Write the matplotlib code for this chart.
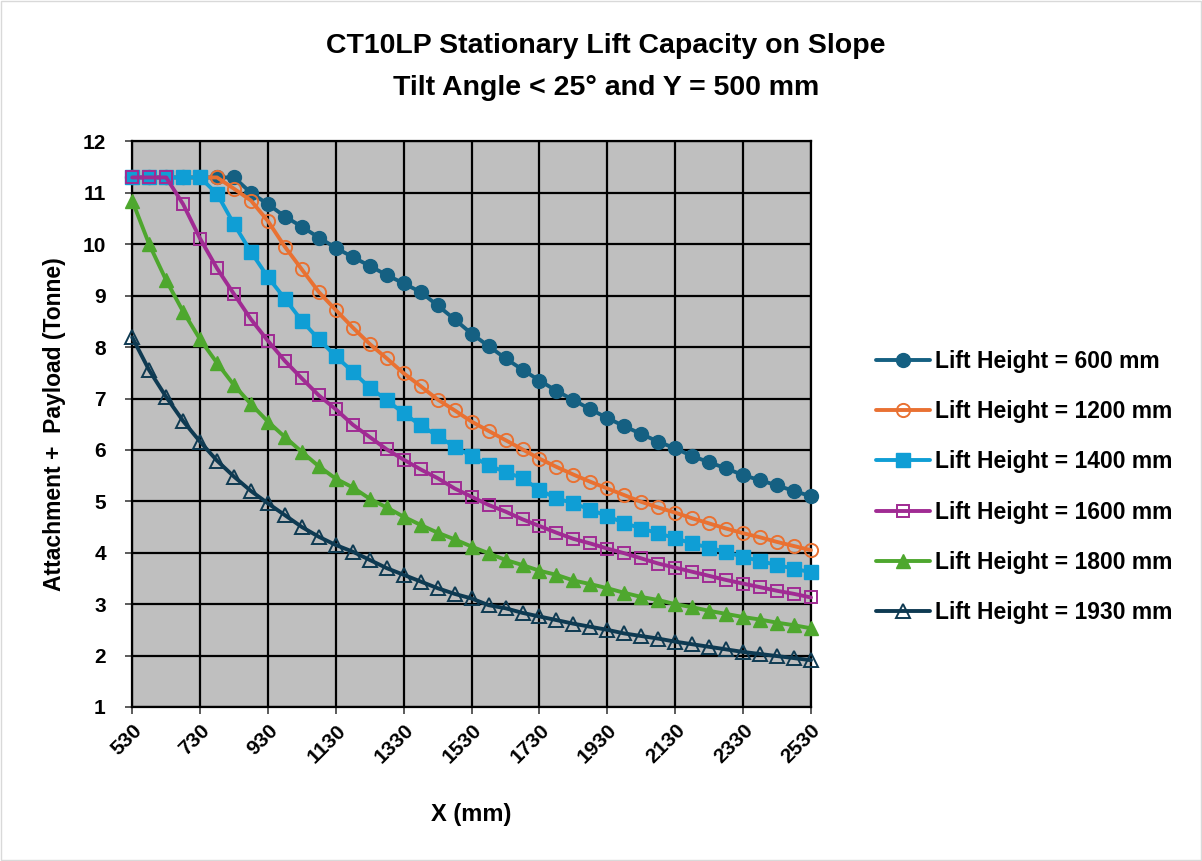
import matplotlib
matplotlib.use("Agg")
import matplotlib.pyplot as plt
from matplotlib.patches import Rectangle

plt.rcParams['font.family'] = ['Liberation Sans', 'DejaVu Sans']

x_mm = list(range(530, 2531, 50))

lift_600 = [11.3, 11.3, 11.3, 11.3, 11.3, 11.3, 11.3,
            11.0, 10.78, 10.54, 10.34, 10.13, 9.93, 9.75, 9.58, 9.40, 9.24, 9.07,
            8.81, 8.54, 8.26, 8.02, 7.78, 7.56, 7.35, 7.15, 6.97, 6.79, 6.62, 6.46,
            6.31, 6.16, 6.03, 5.88, 5.76, 5.64, 5.51, 5.41, 5.31, 5.20, 5.10]
lift_1200 = [11.3, 11.3, 11.3, 11.3, 11.3, 11.3,
             11.08, 10.85, 10.45, 9.95, 9.51, 9.07, 8.72, 8.38, 8.06, 7.78, 7.49, 7.24,
             6.98, 6.77, 6.55, 6.37, 6.19, 6.01, 5.83, 5.67, 5.52, 5.38, 5.25, 5.12,
             4.99, 4.88, 4.78, 4.67, 4.57, 4.47, 4.38, 4.30, 4.21, 4.13, 4.05]
lift_1400 = [11.3, 11.3, 11.3, 11.3, 11.3,
             10.98, 10.39, 9.85, 9.36, 8.94, 8.51, 8.15, 7.82, 7.52, 7.21, 6.97, 6.71,
             6.48, 6.27, 6.06, 5.88, 5.70, 5.57, 5.45, 5.22, 5.06, 4.96, 4.84, 4.71,
             4.58, 4.47, 4.38, 4.28, 4.18, 4.10, 4.01, 3.92, 3.84, 3.76, 3.69, 3.62]
lift_1600 = [11.3, 11.3, 11.3,
             10.78, 10.11, 9.53, 9.03, 8.54, 8.12, 7.73, 7.39, 7.06, 6.79, 6.49, 6.25,
             6.01, 5.81, 5.62, 5.45, 5.25, 5.09, 4.93, 4.80, 4.65, 4.52, 4.39, 4.27,
             4.18, 4.08, 3.99, 3.89, 3.79, 3.71, 3.63, 3.55, 3.47, 3.40, 3.33, 3.26,
             3.20, 3.13]
lift_1800 = [10.85, 10.0, 9.30, 8.69, 8.15, 7.69, 7.26, 6.89, 6.55, 6.25, 5.96, 5.68,
             5.44, 5.27, 5.05, 4.88, 4.70, 4.54, 4.39, 4.26, 4.12, 3.99, 3.86, 3.76,
             3.65, 3.57, 3.46, 3.39, 3.31, 3.22, 3.14, 3.08, 3.00, 2.94, 2.87, 2.81,
             2.75, 2.70, 2.64, 2.59, 2.53]
lift_1930 = [8.19, 7.55, 7.03, 6.56, 6.16, 5.79, 5.48, 5.20, 4.96, 4.73, 4.50, 4.31,
             4.15, 4.02, 3.86, 3.70, 3.57, 3.44, 3.31, 3.20, 3.11, 2.98, 2.92, 2.83,
             2.76, 2.69, 2.62, 2.56, 2.50, 2.43, 2.38, 2.33, 2.27, 2.22, 2.17, 2.12,
             2.07, 2.03, 1.99, 1.95, 1.91]

series_labels = ["Lift Height = 600 mm", "Lift Height = 1200 mm", "Lift Height = 1400 mm",
                 "Lift Height = 1600 mm", "Lift Height = 1800 mm", "Lift Height = 1930 mm"]
x_ticks = list(range(530, 2531, 200))
y_ticks = list(range(1, 13))

title_line1 = "CT10LP Stationary Lift Capacity on Slope"
title_line2 = "Tilt Angle < 25° and Y = 500 mm"
x_label = "X (mm)"
y_label = "Attachment +  Payload (Tonne)"

fig = plt.figure(figsize=(12.02, 8.61), dpi=100)
ax = fig.add_axes([0.110, 0.1789, 0.5647, 0.6568])
ax.set_facecolor('#BFBFBF')

styles = [
    dict(color='#156082', marker='o', ms=10, mfc='#156082', mec='#156082'),
    dict(color='#E97132', marker='o', ms=9.5, mfc='none', mec='#E97132', mew=1.4),
    dict(color='#0F9ED5', marker='s', ms=9.5, mfc='#0F9ED5', mec='#0F9ED5'),
    dict(color='#A02B93', marker='s', ms=9.0, mfc='none', mec='#A02B93', mew=1.4),
    dict(color='#4EA72E', marker='^', ms=10, mfc='#4EA72E', mec='#4EA72E'),
    dict(color='#0E3A52', marker='^', ms=9.5, mfc='none', mec='#0E3A52', mew=1.4),
]
data = [lift_600, lift_1200, lift_1400, lift_1600, lift_1800, lift_1930]
for i, (vals, st, lab) in enumerate(zip(data, styles, series_labels)):
    ax.plot(x_mm, vals, lw=2.8, label=lab, solid_joinstyle='round',
            solid_capstyle='round', zorder=3 + i, clip_on=False, **st)

ax.set_xlim(530, 2530)
ax.set_ylim(1, 12)
ax.set_xticks(x_ticks)
ax.set_yticks(y_ticks)
ax.set_xticklabels([str(t) for t in x_ticks], rotation=45, ha='right', va='top',
                   rotation_mode='anchor', fontsize=15, fontweight='bold')
ax.set_yticklabels([str(t) for t in y_ticks], fontsize=15, fontweight='bold')
ax.tick_params(axis='both', length=5, width=1.2, color='#404040')
ax.tick_params(axis='y', pad=14)
ax.tick_params(axis='x', pad=5)
ax.grid(True, color='black', lw=1.6, zorder=1)
ax.set_axisbelow(True)
for s in ax.spines.values():
    s.set_color('black')
    s.set_linewidth(1.6)

fig.text(471.5 / 1202, 1 - 815 / 861, x_label, ha='center', va='center',
         fontsize=17, fontweight='bold')
fig.text(55 / 1202, 1 - 424 / 861, y_label, ha='center', va='center', rotation=90,
         fontsize=16.5, fontweight='bold')
fig.text(0.504, 1 - 46 / 861, title_line1, ha='center', va='center', fontsize=20.5,
         fontweight='bold')
fig.text(0.504, 1 - 88 / 861, title_line2, ha='center', va='center', fontsize=20.5,
         fontweight='bold')

leg = fig.legend(loc='center left', bbox_to_anchor=(0.7288, 1 - 487 / 861), frameon=False,
                 prop={'size': 16.5, 'weight': 'bold'}, handlelength=2.36,
                 handletextpad=0.22, labelspacing=1.18, borderpad=0, borderaxespad=0)

fig.patches.append(Rectangle((0.001, 0.001), 0.998, 0.998, transform=fig.transFigure,
                             fill=False, edgecolor='#D9D9D9', lw=1))
fig.savefig('out.png', dpi=100)
